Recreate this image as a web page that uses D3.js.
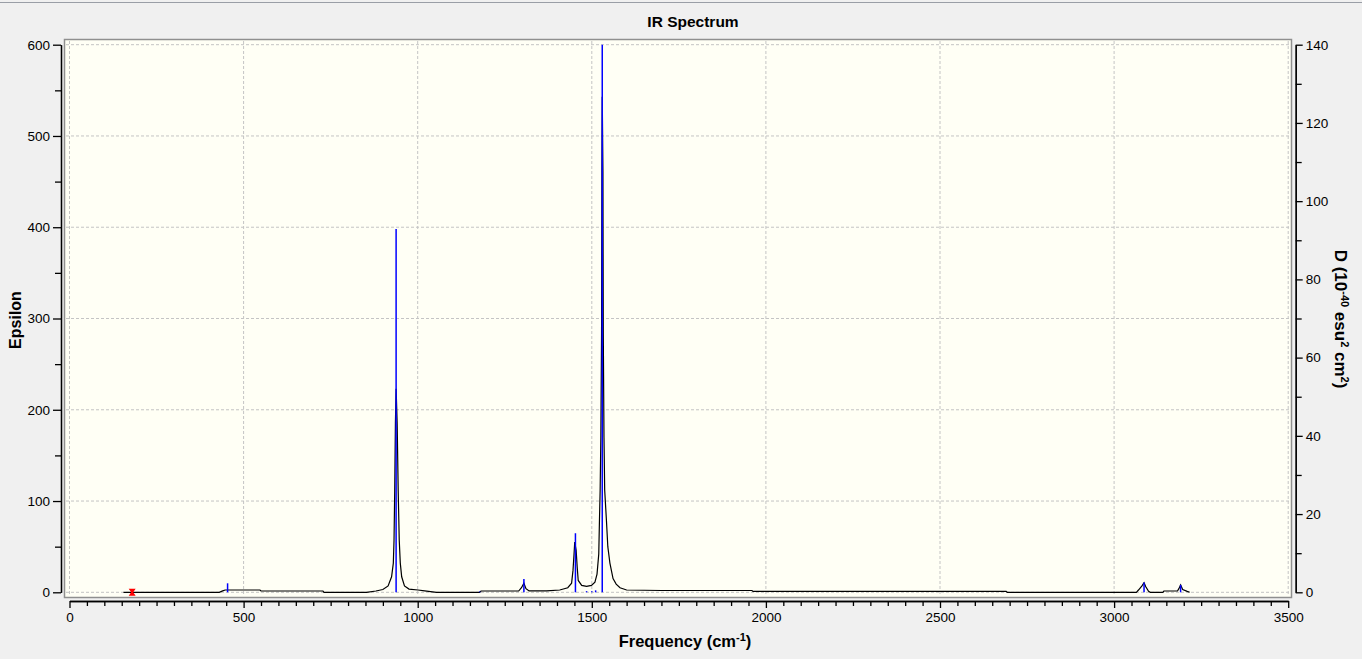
<!DOCTYPE html>
<html>
<head>
<meta charset="utf-8">
<script src="https://cdn.jsdelivr.net/npm/d3@7"></script>
<style>
body { margin:0; background:#f0f0f0; }
text { font-family:"Liberation Sans", Arial, sans-serif; fill:#000; }
</style>
</head>
<body>
<div id="chart"></div>
<script>
// stick spectrum (frequency in cm-1, D in 10^-40 esu^2 cm^2)
var stickFreq = [454, 938, 1178, 1305, 1453, 1485, 1500, 1511, 1530, 3086, 3191];
var stickD = [2.3, 92.9, 0.2, 3.4, 15.1, 0.3, 0.3, 0.5, 140, 2.5, 1.9];

// broadened spectrum (frequency, epsilon)
var curveFreq = [155, 430, 440, 447, 460, 547, 550, 728, 731, 853, 880, 900, 915, 925, 930, 932, 934, 936, 938, 941,
                 944, 947, 950, 954, 962, 975, 1001, 1020, 1054, 1178, 1182, 1290, 1298, 1305, 1311, 1320, 1370, 1408, 1431, 1442,
                 1446, 1449, 1451, 1455, 1458, 1461, 1471, 1485, 1499, 1509, 1515, 1520, 1522, 1524, 1526, 1528, 1529, 1530, 1532, 1533,
                 1535, 1537, 1542, 1546, 1552, 1561, 1570, 1581, 1600, 1700, 1960, 1963, 2690, 2693, 3064, 3070, 3080, 3086, 3091, 3099,
                 3104, 3140, 3143, 3182, 3186, 3191, 3197, 3210, 3217];
var curveEps = [0, 0, 1.5, 2.5, 2.5, 2.5, 1.4, 1.4, 0, 0, 1.4, 3, 7, 17, 32, 57, 111, 186, 223, 186,
                111, 57, 32, 17, 7, 3.5, 2.5, 1.5, 0, 0, 1.4, 1.4, 5, 10, 4, 1.5, 1.5, 2.5, 5, 10,
                24, 42, 55, 46, 28, 13, 7.5, 6.5, 7.5, 11, 20, 42, 79, 112, 170, 283, 461, 543, 461, 283,
                170, 112, 79, 50, 32, 15, 9, 5, 2.5, 2, 2, 1, 1, 0, 0, 2.5, 7, 10.5, 6, 1,
                0, 0, 1.4, 1.4, 4, 8, 3, 1, 0];

// selected mode marker
var markerFreq = [180];
var markerEps = [0];

var xTicks = [0, 500, 1000, 1500, 2000, 2500, 3000, 3500];
var epsTicks = [0, 100, 200, 300, 400, 500, 600];
var dTicks = [0, 20, 40, 60, 80, 100, 120, 140];

var svg = d3.select('#chart').append('svg')
            .attr('width', 1362).attr('height', 659);

var x = d3.scaleLinear().domain([0, 3500]).range([69.5, 1288.2]);
var yEps = d3.scaleLinear().domain([0, 600]).range([592.3, 44.7]);
var yD = d3.scaleLinear().domain([0, 140]).range([592.3, 44.7]);

svg.append('line')
   .attr('x1', 0).attr('x2', 1362).attr('y1', 2.5).attr('y2', 2.5)
   .style('stroke', '#9a9ea6');

svg.append('rect')
   .attr('x', 64.5).attr('y', 39.5).attr('width', 1227).attr('height', 558)
   .style('fill', '#fffff5').style('stroke', '#8f8f8f').style('stroke-width', 1.5);

// grid
var grid = svg.append('g').style('stroke', '#c4c4c4').style('stroke-dasharray', '3,2');
grid.selectAll('.gx').data(xTicks).enter().append('line')
    .attr('x1', d => x(d)).attr('x2', d => x(d)).attr('y1', 41).attr('y2', 596);
grid.selectAll('.gy').data(epsTicks).enter().append('line')
    .attr('x1', 66).attr('x2', 1290).attr('y1', d => yEps(d)).attr('y2', d => yEps(d));

// curve
var line = d3.line().x((d, i) => x(curveFreq[i])).y((d, i) => yEps(curveEps[i]));
svg.append('path')
   .attr('d', line(curveFreq))
   .style('fill', 'none').style('stroke', '#000').style('stroke-width', 1.2);

// sticks
svg.selectAll('.stick').data(stickFreq).enter().append('line')
   .attr('x1', d => x(d)).attr('x2', d => x(d))
   .attr('y1', yD(0)).attr('y2', (d, i) => yD(stickD[i]))
   .style('stroke', '#0000ff').style('stroke-width', 1.5);

// marker
svg.selectAll('.mark').data(markerFreq).enter().append('path')
   .attr('transform', (d, i) => 'translate(' + x(d) + ',' + yEps(markerEps[i]) + ')')
   .attr('d', 'M-3.5,-3.5H3.5L1,0L3.5,3.5H-3.5L-1,0Z')
   .style('fill', '#ff0000');

// axes
var styleAxis = function(g) {
  g.selectAll('path.domain').style('stroke', '#000').style('stroke-width', 1.3);
  g.selectAll('.tick line').style('stroke', '#000').style('stroke-width', 1.3);
  g.selectAll('text').style('font-size', '13.5px').style('font-family', '"Liberation Sans", Arial, sans-serif');
};

var leftMinor = svg.append('g').attr('transform', 'translate(61,0)')
   .call(d3.axisLeft(yEps).tickValues(d3.range(50, 600, 100)).tickSize(6).tickFormat('').tickSizeOuter(0));
var leftAxis = svg.append('g').attr('transform', 'translate(61,0)')
   .call(d3.axisLeft(yEps).tickValues(epsTicks).tickSize(8).tickPadding(3).tickFormat(d3.format('d')).tickSizeOuter(0));
styleAxis(leftMinor); styleAxis(leftAxis);

var rightMinor = svg.append('g').attr('transform', 'translate(1295.7,0)')
   .call(d3.axisRight(yD).tickValues(d3.range(10, 140, 20)).tickSize(6).tickFormat('').tickSizeOuter(0));
var rightAxis = svg.append('g').attr('transform', 'translate(1295.7,0)')
   .call(d3.axisRight(yD).tickValues(dTicks).tickSize(7).tickPadding(3).tickFormat(d3.format('d')).tickSizeOuter(0));
styleAxis(rightMinor); styleAxis(rightAxis);

var bottomMinor = svg.append('g').attr('transform', 'translate(0,601)')
   .call(d3.axisBottom(x).tickValues(d3.range(50, 3500, 50).filter(d => d % 500 != 0)).tickSize(5).tickFormat('').tickSizeOuter(0));
var bottomAxis = svg.append('g').attr('transform', 'translate(0,601)')
   .call(d3.axisBottom(x).tickValues(xTicks).tickSize(7).tickPadding(4).tickFormat(d3.format('d')).tickSizeOuter(0));
styleAxis(bottomMinor); styleAxis(bottomAxis);

// titles
svg.append('text').attr('x', 693).attr('y', 27).attr('text-anchor', 'middle')
   .style('font-weight', 'bold').style('font-size', '15.5px').text('IR Spectrum');

var xl = svg.append('text').attr('x', 685).attr('y', 647).attr('text-anchor', 'middle')
   .style('font-weight', 'bold').style('font-size', '16.5px');
xl.append('tspan').text('Frequency (cm');
xl.append('tspan').attr('dy', -6).style('font-size', '11px').text('-1');
xl.append('tspan').attr('dy', 6).text(')');

svg.append('text').attr('transform', 'translate(21,320) rotate(-90)').attr('text-anchor', 'middle')
   .style('font-weight', 'bold').style('font-size', '16px').text('Epsilon');

var yl = svg.append('text').attr('transform', 'translate(1335,319) rotate(90)').attr('text-anchor', 'middle')
   .style('font-weight', 'bold').style('font-size', '17px');
yl.append('tspan').text('D (10');
yl.append('tspan').attr('dy', -6).style('font-size', '11px').text('-40');
yl.append('tspan').attr('dy', 6).text(' esu');
yl.append('tspan').attr('dy', -6).style('font-size', '11px').text('2');
yl.append('tspan').attr('dy', 6).text(' cm');
yl.append('tspan').attr('dy', -6).style('font-size', '11px').text('2');
yl.append('tspan').attr('dy', 6).text(')');
</script>
</body>
</html>
